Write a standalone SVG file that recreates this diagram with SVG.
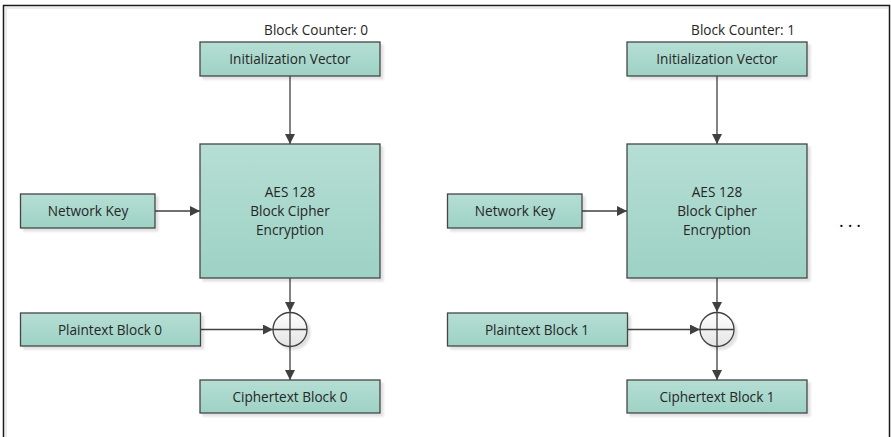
<svg xmlns="http://www.w3.org/2000/svg" width="891" height="437" viewBox="0 0 891 437">
<defs>
<linearGradient id="g" x1="0" y1="0" x2="0" y2="1"><stop offset="0" stop-color="#b6ded4"/><stop offset="1" stop-color="#9dd2c4"/></linearGradient>
<linearGradient id="gc" x1="0" y1="0" x2="0" y2="1"><stop offset="0" stop-color="#ffffff"/><stop offset="1" stop-color="#e4e4e4"/></linearGradient>
<marker id="ah" viewBox="0 0 10 10" refX="10" refY="5" markerWidth="10" markerHeight="10" markerUnits="userSpaceOnUse" orient="auto"><path d="M0,0 L10,5 L0,10 z" fill="#404040"/></marker>
<filter id="sh" x="-10%" y="-10%" width="130%" height="130%"><feOffset dx="3" dy="3" in="SourceAlpha" result="o"/><feGaussianBlur in="o" stdDeviation="1" result="b"/><feComponentTransfer in="b" result="c"><feFuncA type="linear" slope="0.12"/></feComponentTransfer><feMerge><feMergeNode in="c"/><feMergeNode in="SourceGraphic"/></feMerge></filter>
</defs>
<style>
.box{fill:url(#g);stroke:#454545;stroke-width:1.3;filter:url(#sh)}
.t{font-family:"Open Sans","Noto Sans",sans-serif;font-size:13.6px;fill:#262626;text-anchor:middle}
.lbl{font-family:"Open Sans","Noto Sans",sans-serif;font-size:13.6px;fill:#262626;text-anchor:end}
.c{stroke:#404040;stroke-width:1.3;fill:none}
.ca{stroke:#404040;stroke-width:1.3;fill:none;marker-end:url(#ah)}
.x{fill:url(#gc);stroke:#404040;stroke-width:1.3;filter:url(#sh)}
</style>
<rect x="0" y="0" width="891" height="437" fill="#ffffff"/>
<rect x="3.5" y="5.5" width="886" height="440" fill="none" stroke="#1a1a1a" stroke-width="1.5"/>
<line x1="5" y1="8" x2="888" y2="8" stroke="#ececec" stroke-width="2"/>
<line x1="6" y1="8" x2="6" y2="437" stroke="#ececec" stroke-width="2"/>

<g id="connectors">
<line class="ca" x1="290" y1="76" x2="290" y2="144"/>
<line class="ca" x1="155" y1="211" x2="200" y2="211"/>
<line class="ca" x1="290" y1="278" x2="290" y2="312"/>
<line class="ca" x1="200" y1="329.5" x2="273" y2="329.5"/>
<line class="ca" x1="290" y1="346" x2="290" y2="380"/>
<line class="ca" x1="717" y1="76" x2="717" y2="144"/>
<line class="ca" x1="582" y1="211" x2="627" y2="211"/>
<line class="ca" x1="717" y1="278" x2="717" y2="312"/>
<line class="ca" x1="627" y1="329.5" x2="700" y2="329.5"/>
<line class="ca" x1="717" y1="346" x2="717" y2="380"/>
</g>

<g id="counter0"><text class="lbl" x="368" y="35">Block Counter: 0</text></g>
<g id="iv0"><rect class="box" x="200" y="42" width="180" height="34"/><text class="t" x="290" y="64">Initialization Vector</text></g>
<g id="aes0"><rect class="box" x="200" y="144" width="180" height="134"/><text class="t" x="290" y="197">AES 128</text><text class="t" x="290" y="216">Block Cipher</text><text class="t" x="290" y="235">Encryption</text></g>
<g id="key0"><rect class="box" x="20.5" y="194" width="134.5" height="34"/><text class="t" x="88" y="216">Network Key</text></g>
<g id="pt0"><rect class="box" x="20.5" y="313" width="180" height="33"/><text class="t" x="110" y="334.5">Plaintext Block 0</text></g>
<g id="xor0"><circle class="x" cx="290" cy="329.5" r="17"/><line class="c" x1="273" y1="329.5" x2="307" y2="329.5"/><line class="c" x1="290" y1="312.5" x2="290" y2="346.5"/></g>
<g id="ct0"><rect class="box" x="200" y="380" width="180" height="33"/><text class="t" x="290" y="401.5">Ciphertext Block 0</text></g>

<g id="counter1"><text class="lbl" x="795" y="35">Block Counter: 1</text></g>
<g id="iv1"><rect class="box" x="627" y="42" width="180" height="34"/><text class="t" x="717" y="64">Initialization Vector</text></g>
<g id="aes1"><rect class="box" x="627" y="144" width="180" height="134"/><text class="t" x="717" y="197">AES 128</text><text class="t" x="717" y="216">Block Cipher</text><text class="t" x="717" y="235">Encryption</text></g>
<g id="key1"><rect class="box" x="447.5" y="194" width="134.5" height="34"/><text class="t" x="515" y="216">Network Key</text></g>
<g id="pt1"><rect class="box" x="447.5" y="313" width="180" height="33"/><text class="t" x="537" y="334.5">Plaintext Block 1</text></g>
<g id="xor1"><circle class="x" cx="717" cy="329.5" r="17"/><line class="c" x1="700" y1="329.5" x2="734" y2="329.5"/><line class="c" x1="717" y1="312.5" x2="717" y2="346.5"/></g>
<g id="ct1"><rect class="box" x="627" y="380" width="180" height="33"/><text class="t" x="717" y="401.5">Ciphertext Block 1</text></g>

<g id="ellipsis"><text x="852" y="227" font-family="'Open Sans','Noto Sans',sans-serif" font-size="18" fill="#000" text-anchor="middle" letter-spacing="4">...</text></g>
</svg>
